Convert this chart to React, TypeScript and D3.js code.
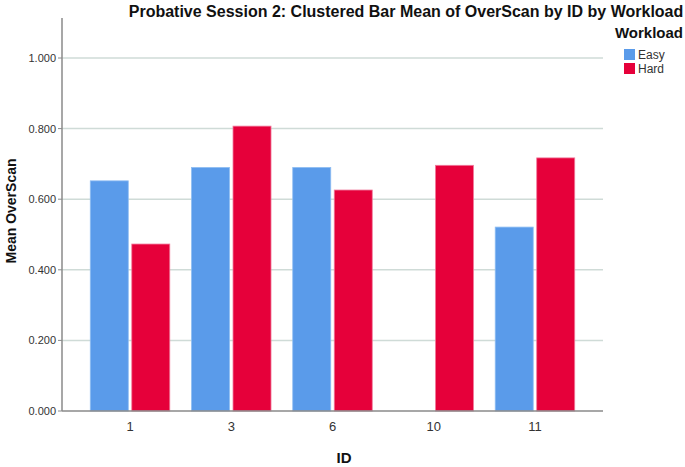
import React from "react";
import * as d3 from "d3";

const ids = ["1", "3", "6", "10", "11"];
const workloads = ["Easy", "Hard"];
const easyValues: (number | null)[] = [0.652, 0.69, 0.69, null, 0.521];
const hardValues: (number | null)[] = [0.473, 0.807, 0.626, 0.696, 0.717];
const yTicks = [0, 0.2, 0.4, 0.6, 0.8, 1.0];
const colors = ["#5a9bea", "#e6003a"];

const W = 685, H = 467;
const left = 62, right = 603, top = 18, bottom = 411;

export default function App() {
  const y = d3.scaleLinear().domain([0, 1]).range([bottom, 58]);
  const x = d3.scalePoint<string>().domain(ids).range([left, right]).padding(0.672);
  const barW = 38;
  const gap = 3.5;
  const series = [easyValues, hardValues];
  const font = "'Liberation Sans', Arial, sans-serif";

  return (
    <svg width={W} height={H} style={{ position: "absolute", left: 0, top: 0, fontFamily: font }}>
      <rect width={W} height={H} fill="#fff" />
      <text x={406} y={17} textAnchor="middle" fontSize={16} fontWeight="bold" fill="#111">
        Probative Session 2: Clustered Bar Mean of OverScan by ID by Workload
      </text>
      {yTicks.filter(t => t > 0).map(t => (
        <line key={t} x1={left} x2={right} y1={y(t)} y2={y(t)} stroke="#cfdbd7" strokeWidth={1.5} />
      ))}
      {series.map((vals, si) =>
        vals.map((v, i) => {
          if (v == null) return null;
          const cx = x(ids[i])!;
          const x0 = si === 0 ? cx - gap / 2 - barW : cx + gap / 2;
          return (
            <rect key={`${si}-${i}`} x={x0} y={y(v)} width={barW} height={bottom - y(v)}
              fill={colors[si]} stroke={si === 0 ? "#8fbdf2" : "#f07a9c"} strokeWidth={0.8} />
          );
        })
      )}
      <line x1={left} x2={left} y1={top} y2={bottom} stroke="#8a8a8a" strokeWidth={1.5} />
      <line x1={left} x2={right} y1={bottom} y2={bottom} stroke="#8a8a8a" strokeWidth={1.5} />
      {yTicks.map(t => (
        <g key={t}>
          <line x1={left - 4} x2={left} y1={y(t)} y2={y(t)} stroke="#8a8a8a" />
          <text x={56} y={y(t) + 4} textAnchor="end" fontSize={11} fill="#333">{t.toFixed(3)}</text>
        </g>
      ))}
      {ids.map(id => (
        <text key={id} x={x(id)!} y={431} textAnchor="middle" fontSize={13} fill="#333">{id}</text>
      ))}
      <text x={344} y={463} textAnchor="middle" fontSize={15} fontWeight="bold" fill="#111">ID</text>
      <text transform={`translate(16,211) rotate(-90)`} textAnchor="middle" fontSize={14} fontWeight="bold" fill="#111">
        Mean OverScan
      </text>
      <text x={683} y={38} textAnchor="end" fontSize={15} fontWeight="bold" fill="#111">Workload</text>
      {workloads.map((w, i) => (
        <g key={w}>
          <rect x={624} y={49 + i * 14} width={11} height={11} fill={colors[i]} />
          <text x={638} y={59 + i * 14} fontSize={12} fill="#333">{w}</text>
        </g>
      ))}
    </svg>
  );
}
